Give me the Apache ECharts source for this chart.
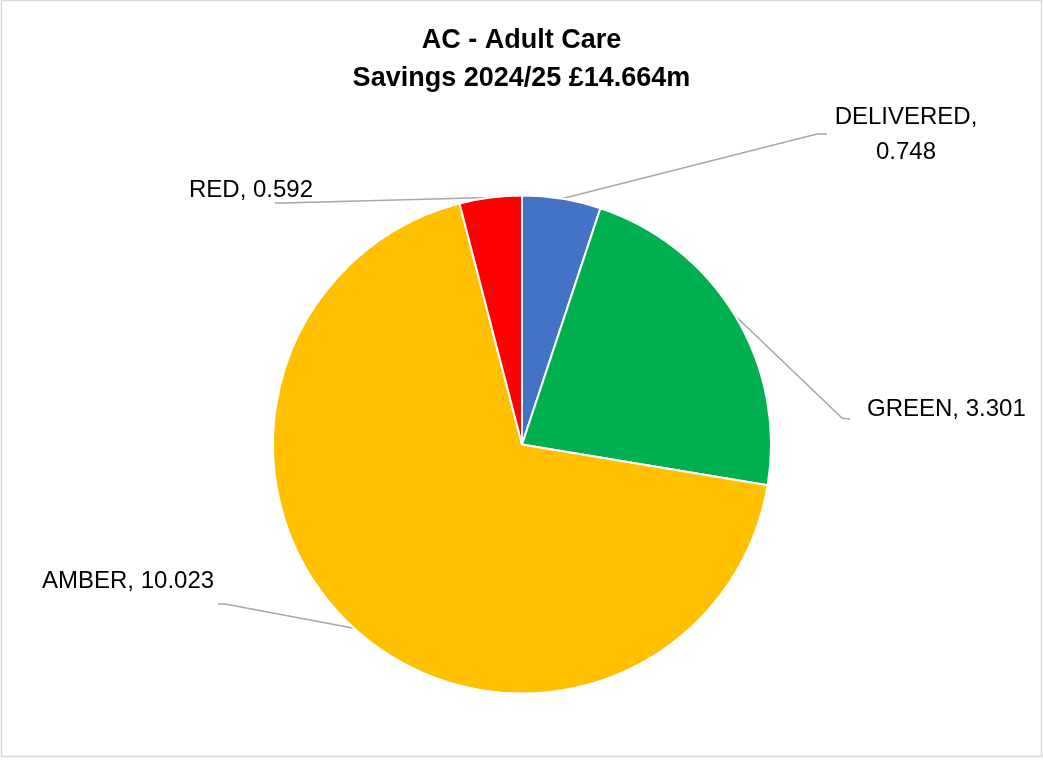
<!DOCTYPE html>
<html>
<head>
<meta charset="utf-8">
<script src="https://cdn.jsdelivr.net/npm/echarts@6/dist/echarts.min.js"></script>
<style>
html,body{margin:0;padding:0;background:#fff;}
#chart{width:1043px;height:760px;}
</style>
</head>
<body>
<div id="chart"></div>
<script>
const titleLines = ['AC - Adult Care', 'Savings 2024/25 £14.664m'];
const categories = ['DELIVERED', 'GREEN', 'AMBER', 'RED'];
const values = [0.748, 3.301, 10.023, 0.592];
const colors = ['#4472C4', '#00B050', '#FFC000', '#FF0000'];

// label placement (layout only)
const labelPlace = [
  {x: 906, y: 135, align: 'center', elbow: [817, 134], end: [827, 134]},
  {x: 867, y: 409, align: 'left', elbow: [842, 418], end: [850, 419]},
  {x: 42, y: 581, align: 'left', elbow: [225, 604], end: [218, 604]},
  {x: 251, y: 190, align: 'center', elbow: [283, 203], end: [275, 203]}
];

const chart = echarts.init(document.getElementById('chart'));
chart.setOption({
  backgroundColor: '#fff',
  animation: false,
  title: {
    text: titleLines.join('\n'),
    left: 'center',
    top: 17,
    textStyle: {fontFamily: 'Liberation Sans', fontWeight: 'bold', fontSize: 27, lineHeight: 38, color: '#000'}
  },
  graphic: [{
    type: 'rect',
    shape: {x: 1.5, y: 0.5, width: 1040, height: 756},
    style: {fill: 'none', stroke: '#d9d9d9', lineWidth: 1.5},
    silent: true
  }],
  series: [{
    type: 'pie',
    center: [522, 444.5],
    radius: 249,
    startAngle: 90,
    clockwise: true,
    data: categories.map((c, i) => ({name: c, value: values[i], itemStyle: {color: colors[i]}})),
    itemStyle: {borderColor: '#fff', borderWidth: 2},
    label: {
      show: true,
      position: 'outside',
      formatter: p => p.dataIndex === 0 ? p.name + ',\n' + p.value.toFixed(3) : p.name + ', ' + p.value.toFixed(3),
      fontFamily: 'Liberation Sans',
      fontSize: 24,
      lineHeight: 35,
      color: '#000'
    },
    labelLine: {show: true, length: 20, length2: 10, lineStyle: {color: '#a6a6a6', width: 1.5}},
    labelLayout: function (params) {
      const lp = labelPlace[params.dataIndex];
      const pts = params.labelLinePoints;
      return {
        x: lp.x,
        y: lp.y,
        align: lp.align,
        verticalAlign: 'middle',
        labelLinePoints: [pts[0], lp.elbow, lp.end]
      };
    },
    emphasis: {disabled: true}
  }]
});
</script>
</body>
</html>
